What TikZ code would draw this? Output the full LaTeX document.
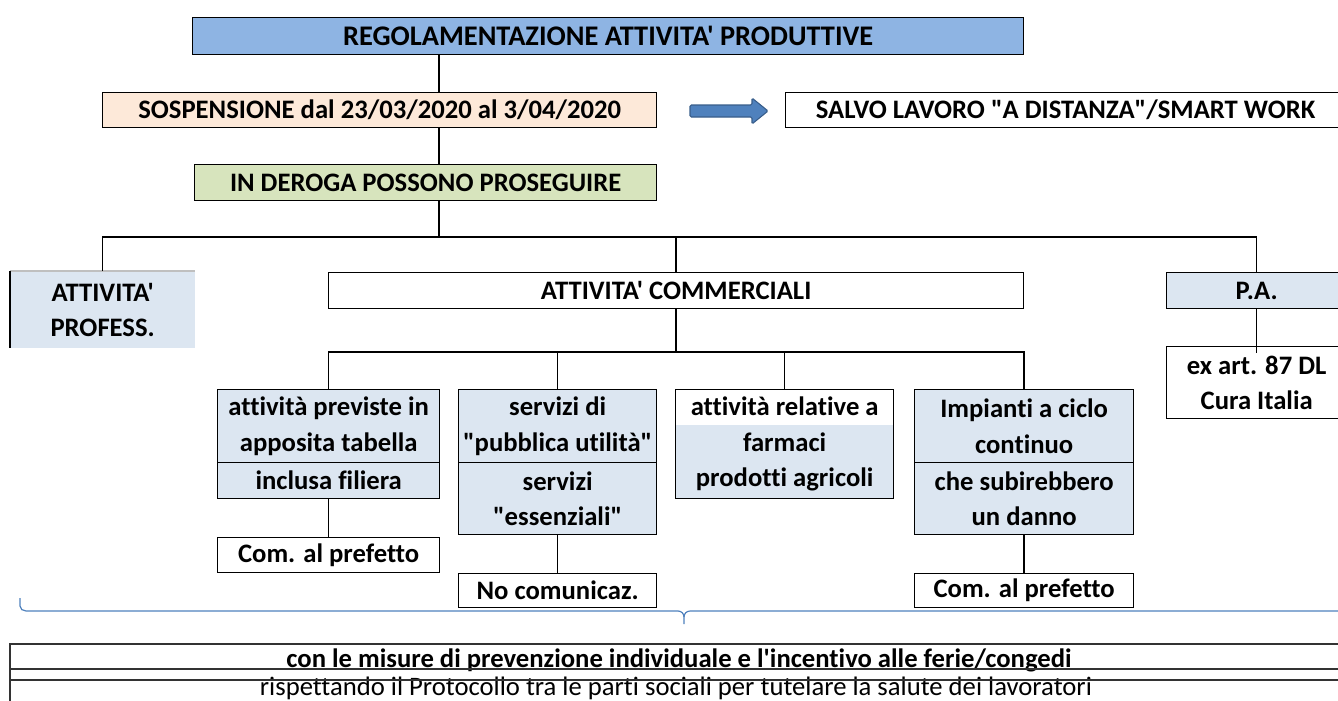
\documentclass[tikz,border=0pt]{standalone}
\usepackage{fontspec}
\setmainfont{Carlito}[Ligatures={TeXOff,NoCommon}]
\definecolor{titleblue}{HTML}{8EB4E3}
\definecolor{peach}{HTML}{FDE9D9}
\definecolor{lgreen}{HTML}{D7E4BD}
\definecolor{lblue}{HTML}{DCE6F1}
\definecolor{arrblue}{HTML}{4F81BD}
\definecolor{arredge}{HTML}{385D8A}
\begin{document}
\begin{tikzpicture}[x=0.75pt,y=-0.75pt,
  bx/.style={draw=black, line width=1pt, inner sep=0pt, anchor=north west, align=center,
    font=\bfseries\fontsize{20}{26.5}\selectfont},
  sz/.style 2 args={minimum width=#1*0.75pt, minimum height=#2*0.75pt},
  conn/.style={draw=black, line width=1.1pt},
  brace/.style={draw=arrblue, line width=0.9pt},
  rule/.style={draw=black!80, line width=1pt}]
\useasboundingbox (0,0) rectangle (1338,700);
\begin{scope}
\clip (0,0) rectangle (1338,700);
% top chain
\node[bx, sz={831}{37}, fill=titleblue, font=\bfseries\fontsize{21.3}{26}\selectfont] (title) at (192,17) {REGOLAMENTAZIONE ATTIVITA' PRODUTTIVE};
\node[bx, sz={554}{35}, fill=peach] (sosp) at (102,92) {SOSPENSIONE dal 23/03/2020 al 3/04/2020};
\node[bx, sz={560}{35}, fill=white] (salvo) at (785,92) {SALVO LAVORO "A DISTANZA"/SMART WORK};
\node[bx, sz={462}{36}, fill=lgreen] (deroga) at (194,164) {IN DEROGA POSSONO PROSEGUIRE};
\draw[fill=arrblue, draw=arredge, line width=0.8pt, rounded corners=1pt]
  (690,105) -- (752,105) -- (752,98) -- (768,111) -- (752,124) -- (752,117) -- (690,117) -- cycle;
% second level
\node[bx, draw=none, sz={184}{76}, fill=lblue] (prof) at (10,271) {ATTIVITA'\\PROFESS.};
\draw[draw=black!25, line width=0.8pt] (prof.north west) -- (prof.north east);
\draw[conn] (prof.north west) -- (prof.south west);
\node[bx, sz={695}{36}, fill=white] (comm) at (328,272) {ATTIVITA' COMMERCIALI};
\node[bx, sz={180}{36}, fill=lblue] (pa) at (1166,272) {P.A.};
\node[bx, sz={180}{72}, fill=white] (exart) at (1166,346) {ex art. 87 DL\\Cura Italia};
% third level
\node[bx, sz={222}{73}, fill=lblue] (b1a) at (217,389) {attività previste in\\apposita tabella};
\node[bx, sz={222}{36}, fill=lblue] (b1b) at (217,462) {inclusa filiera};
\node[bx, sz={222}{35}, fill=white] (c1) at (217,537) {Com. al prefetto};
\node[bx, sz={198}{73}, fill=lblue] (b2a) at (458,389) {servizi di\\"pubblica utilità"};
\node[bx, sz={198}{72}, fill=lblue] (b2b) at (458,462) {servizi\\"essenziali"};
\node[bx, sz={198}{34}, fill=white] (c2) at (458,573) {No comunicaz.};
\fill[lblue] (675,425) rectangle (893,498);
\node[bx, sz={218}{109}] (b3) at (675,389) {attività relative a\\farmaci\\prodotti agricoli};
\node[bx, sz={219}{73}, fill=lblue] (b4a) at (914,389) {Impianti a ciclo\\continuo};
\node[bx, sz={219}{72}, fill=lblue] (b4b) at (914,462) {che subirebbero\\un danno};
\node[bx, sz={219}{34}, fill=white] (c4) at (914,573) {Com. al prefetto};
% connectors
\coordinate (trunk) at (439,0);
\coordinate (bus1) at (439,237);
\coordinate (bus2) at (675,352);
\draw[conn] (title.south -| trunk) -- (sosp.north -| trunk);
\draw[conn] (sosp.south -| trunk) -- (deroga.north -| trunk);
\draw[conn] (deroga.south -| trunk) -- (bus1);
\draw[conn] (prof.north) |- (pa.north |- bus1) -- (pa.north);
\draw[conn] (comm.north) -- (comm.north |- bus1);
\draw[conn] (pa.south) -- ([yshift=-5pt]exart.north);
\draw[conn] (comm.south) -- (comm.south |- bus2);
\draw[conn] (b1a.north) |- (b4a.north |- bus2) -- (b4a.north);
\draw[conn] (b2a.north) -- (b2a.north |- bus2);
\draw[conn] (b3.north) -- (b3.north |- bus2);
\draw[conn] (b1b.south) -- (c1.north);
\draw[conn] (b2b.south) -- (c2.north);
\draw[conn] (b4b.south) -- (c4.north);
% brace
\coordinate (bl) at (20,598);
\coordinate (bt) at (684,624);
\coordinate (br) at (1345,611);
\draw[brace] (bl) -- (20,606) to[out=-90,in=180] (26,611) -- (678,611) to[out=0,in=90] (684,617) -- (bt);
\draw[brace] (684,617) to[out=90,in=180] (690,611) -- (br);
% bottom
\draw[rule] (1345,644) -- (10,644) -- (10,705);
\node[font=\bfseries\fontsize{20}{24}\selectfont, anchor=base, inner sep=0pt] (note1) at (679,667) {con le misure di prevenzione individuale e l'incentivo alle ferie/congedi};
\node[font=\fontsize{20}{24}\selectfont, anchor=base, inner sep=0pt] (note2) at (676,695) {rispettando il Protocollo tra le parti sociali per tutelare la salute dei lavoratori};
\draw[rule] (10,669) -- (1345,669);
\draw[rule] (10,680) -- (1345,680);
\end{scope}
\end{tikzpicture}
\end{document}
